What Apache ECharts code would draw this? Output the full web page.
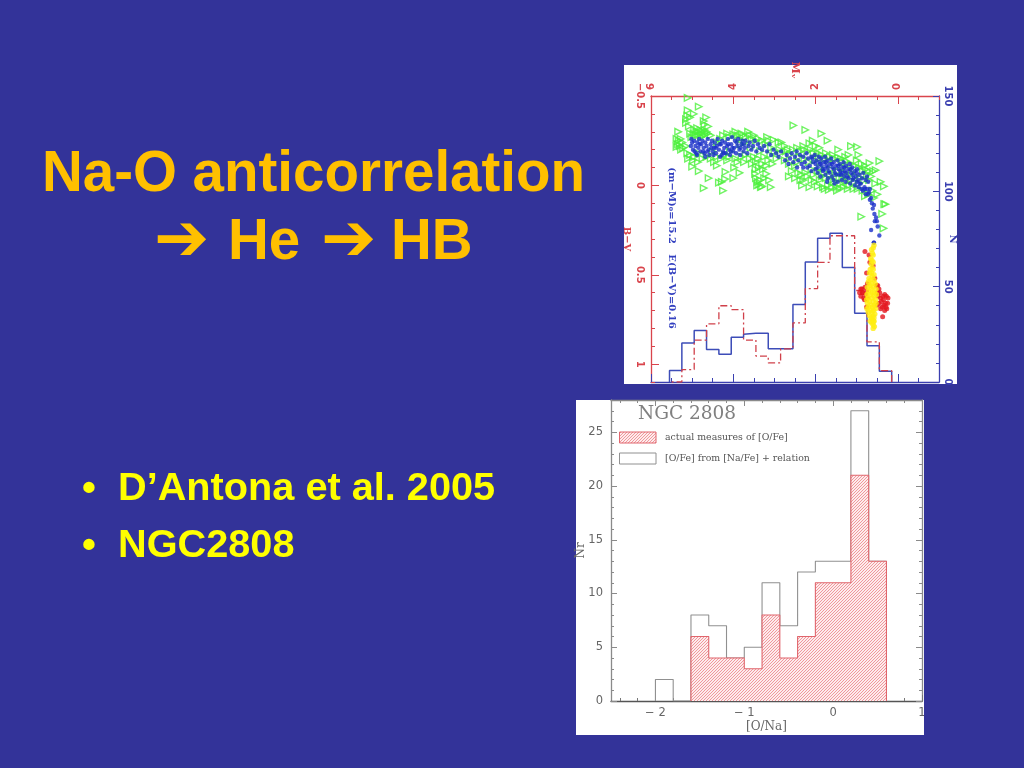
<!DOCTYPE html>
<html><head><meta charset="utf-8">
<style>html,body{margin:0;padding:0;background:#333399}#c{width:1024px;height:768px}</style>
<script src="https://cdn.jsdelivr.net/npm/echarts@6/dist/echarts.min.js"></script>
</head><body><div id="c"></div>
<script>
// Upper panel: histograms against absolute magnitude
const binEdgesMv = [0.15,0.45,0.75,1.05,1.35,1.65,1.95,2.25,2.55,2.85,3.15,3.45,3.75,4.05,4.35,4.65,4.95,5.25,5.55];
const countsBlue = [5.6,19,36,60,78,75.4,63,40.6,17.4,17.4,25.6,25,23.5,14.5,17,27,20.5,6];
const countsRed  = [6,21,48,76.7,76.7,62.7,49,31,17.4,10,13.6,22,38,40,30.5,22,6.5,0];
// Upper panel: stars as [Mv, B-V]
const starsGreen = [[5.11,-.49],[4.84,-.44],[5.11,-.42],[4.96,-.40],[5.12,-.39],[4.66,-.38],[4.72,-.36],[5.15,-.35],[4.61,-.33],[5.08,-.33],[4.80,-.31],[5.34,-.30],[5.15,-.37],[5.05,-.38],[4.7,-.34],
[4.95,-.31],[4.9,-.3],[4.85,-.3],[4.8,-.29],[4.75,-.3],[4.7,-.31],[4.65,-.3],[4.62,-.29],[4.92,-.28],[4.85,-.28],[4.78,-.27],[4.72,-.28],[4.68,-.285],[4.97,-.29],[4.88,-.32],[5.05,-.29],
[5.38,-.26],[5.33,-.25],[5.28,-.26],[5.24,-.24],[5.35,-.23],[5.3,-.22],[5.38,-.215],[5.22,-.21],[5.27,-.2],[5.15,-.22],
[5.12,-.18],[5.05,-.17],[5.1,-.15],[4.95,-.16],[4.85,-.18],[4.75,-.15],[4.65,-.16],[4.55,-.15],[4.4,-.16],[4.3,-.15],[4.2,-.17],[4.1,-.16],
[5.0,-.105],[4.84,-.08],[4.6,-.04],[4.72,.015],[4.25,.03],[4.35,-.015],[4.2,-.035],[4.0,-.04],[4.4,-.11],[4.19,-.075],[3.98,-.1],[3.85,-.07],[3.74,-.13],[4.28,-.02],[4.15,-.14],[3.9,-.13],[3.95,-.15],
[3.47,-.065],[3.45,-.04],[3.41,-.02],[3.33,.01],[3.37,-.005],[3.25,-.04],[3.13,-.03],[3.09,.01],[3.2,-.065],[3.46,-.09],[3.38,-.1],[3.28,-.09],[3.42,0],[3.3,.005],[3.35,-.03],
[4.4,-.24],[4.25,-.28],[4.1,-.27],[4.0,-.285],[3.9,-.28],[3.85,-.26],[3.8,-.29],[3.7,-.27],[3.64,-.3],[3.55,-.26],[3.45,-.25],[3.39,-.26],[3.3,-.25],[3.15,-.25],[3.02,-.255],[2.9,-.24],[2.83,-.24],[2.75,-.22],[4.15,-.29],[3.95,-.3],[3.72,-.24],[3.6,-.28],
[3.8,-.16],[3.7,-.17],[3.6,-.15],[3.5,-.16],[3.45,-.13],[3.4,-.15],[3.3,-.12],[3.25,-.16],[3.15,-.14],[3.05,-.12],[3.1,-.17],[2.95,-.15],[2.85,-.18],[2.75,-.14],[2.65,-.12],[3.55,-.12],[3.2,-.11],[3.0,-.19],
[2.54,-.335],[2.25,-.31],[1.86,-.29],[1.71,-.25],[2.07,-.25],[2.15,-.235],[1.91,-.21],[1.45,-.2],[1.14,-.22],[.99,-.215],[.96,-.17],[1.2,-.17],[.69,-.125],[.45,-.135],[.54,-.085],[.34,.005],[.33,.105],[.3,.105],[.38,.16],[.89,.175],[.35,.24],[2.0,-.22],[2.3,-.22],
[2.55,-.2],[2.45,-.21],[2.38,-.19],[2.28,-.2],[2.2,-.19],[2.12,-.2],[2.05,-.18],[1.95,-.18],[1.85,-.17],[1.75,-.18],[1.65,-.16],[1.55,-.15],[1.45,-.155],[1.35,-.13],[1.25,-.135],[1.15,-.12],[1.05,-.11],[.95,-.1],[.85,-.08],[.75,-.06],[.7,-.03],[.65,-.05],[1.0,-.14],[.8,-.11],
[2.5,-.11],[2.45,-.13],[2.37,-.03],[2.33,0],[2.35,-.06],[2.25,-.07],[2.2,-.05],[1.95,.005],[2.1,-.09],[2.05,-.06],[1.95,-.08],[1.85,-.05],[1.7,0],[1.75,-.04],[1.65,-.06],[1.6,-.03],[1.5,.01],[1.55,-.02],[1.4,-.01],[1.35,-.04],[1.25,-.02],[1.15,-.03],[1.05,-.02],[1.3,-.07],[1.45,-.08],[.95,-.01],
[2.72,-.19],[2.63,-.17],[2.41,-.16],[2.27,-.15],[2.17,-.13],[2.02,-.14],[1.88,-.1],[1.79,-.07],[1.62,-.09],[1.52,-.06],[1.42,-.04],[1.33,-.1],[1.22,-.05],[1.12,-.07],[1.02,-.05],[.92,-.04],[.82,-.03],[.88,-.12],[.78,-.09],[.72,-.08],[1.68,-.14],[1.58,-.17],[1.38,-.15],[1.28,-.16],[1.78,-.15],[1.92,-.15],
[4.98,-.14],[4.86,-.13],[4.5,-.19],[4.47,-.13],[4.08,-.19],[3.82,-.23],[3.58,-.21],[3.35,-.19],[3.22,-.23],[3.08,-.21],[2.88,-.2],[2.68,-.2],[5.02,-.27],[4.55,-.28],[4.32,-.26],[3.76,-.28],[3.5,-.28],[3.18,-.27],
[2.42,-.07],[2.3,-.03],[2.15,.01],[2.1,-.03],[2.02,-.02],[1.9,-.03],[1.82,.01],[1.78,.02],[1.68,.025],[1.6,.01],[1.48,.03],[1.42,.015],[1.32,.01],[1.22,.02],[1.18,0],[1.08,.02],[.98,.02],[.86,.03],[.8,.06],[.72,.05],[.62,.03],[.58,.07],[.5,.05],[.42,-.02],[.55,-.01],[.6,-.08],[2.58,-.08],[2.65,-.05],[2.5,-.04]];
const starsBlue = [[5.02,-.26],[5.0,-.24],[5.03,-.22],[4.98,-.2],[4.95,-.25],[4.92,-.22],[4.9,-.18],[4.87,-.24],[4.85,-.21],[4.83,-.26],[4.8,-.19],[4.78,-.23],[4.75,-.25],[4.72,-.21],[4.7,-.18],[4.68,-.24],[4.65,-.22],[4.62,-.26],[4.6,-.2],[4.58,-.17],[4.55,-.23],[4.52,-.25],[4.5,-.19],[4.47,-.21],[4.45,-.24],[4.42,-.18],[4.4,-.22],[4.38,-.26],[4.35,-.2],[4.32,-.16],[4.3,-.23],[4.27,-.25],[4.25,-.19],[4.22,-.21],[4.2,-.24],[4.18,-.18],[4.15,-.22],[4.13,-.26],[4.1,-.2],[4.08,-.17],[4.05,-.23],[4.03,-.27],[4.0,-.19],[3.98,-.21],[3.96,-.25],[3.93,-.18],[3.9,-.22],[3.88,-.26],[3.85,-.2],[3.83,-.17],[3.8,-.23],[3.78,-.25],[3.75,-.19],[3.72,-.21],[3.7,-.25],[3.66,-.18],[3.63,-.22],[3.6,-.24],[3.56,-.2],[3.52,-.22],[3.48,-.25],[3.44,-.19],[3.4,-.23],[3.36,-.21],[3.3,-.2],[3.25,-.22],[3.18,-.19],[3.12,-.23],[3.08,-.17],[3.02,-.2],[2.96,-.18],[2.9,-.16],[2.84,-.19],
[4.94,-.19],[4.82,-.23],[4.73,-.19],[4.63,-.19],[4.53,-.21],[4.43,-.21],[4.33,-.23],[4.23,-.18],[4.12,-.23],[4.02,-.21],[3.92,-.24],[3.82,-.21],[3.74,-.23],[4.88,-.17],[4.68,-.16],[4.48,-.17],[4.28,-.17],[4.06,-.19],
[2.74,-.14],[2.7,-.17],[2.66,-.12],[2.62,-.15],[2.58,-.18],[2.54,-.13],[2.5,-.16],[2.46,-.19],[2.42,-.14],[2.38,-.17],[2.34,-.12],[2.3,-.16],[2.26,-.13],[2.22,-.18],[2.18,-.15],[2.14,-.11],[2.1,-.16],[2.06,-.13],[2.02,-.17],[1.98,-.14],[1.95,-.1],[1.92,-.16],[1.89,-.12],[1.86,-.15],[1.83,-.09],[1.8,-.13],[1.77,-.16],[1.74,-.11],[1.71,-.14],[1.68,-.08],[1.65,-.12],[1.62,-.15],[1.59,-.1],[1.56,-.13],[1.53,-.07],[1.5,-.11],[1.47,-.14],[1.44,-.09],[1.41,-.12],[1.38,-.06],[1.35,-.1],[1.32,-.13],[1.29,-.08],[1.26,-.11],[1.23,-.05],[1.2,-.09],[1.17,-.12],[1.14,-.07],[1.11,-.1],[1.08,-.04],[1.05,-.08],[1.02,-.05],[.99,-.09],[.96,-.03],[.93,-.06],[.9,-.01],[.87,-.04],[.84,-.07],[.81,.01],[.78,-.03],[.75,-.05],[.72,-.02],[.68,.02],
[1.9,-.13],[1.85,-.11],[1.75,-.13],[1.7,-.1],[1.6,-.12],[1.55,-.09],[1.45,-.11],[1.4,-.08],[1.3,-.1],[1.25,-.07],[1.15,-.09],[1.1,-.06],[1.0,-.07],[2.0,-.12],[2.08,-.15],[1.78,-.09],
[1.95,-.07],[1.88,-.05],[1.82,-.08],[1.76,-.06],[1.7,-.04],[1.66,-.07],[1.6,-.05],[1.56,-.03],[1.5,-.06],[1.46,-.02],[1.42,-.06],[1.36,-.03],[1.3,-.05],[1.27,-.02],[1.2,-.04],[1.16,-.01],[1.1,-.03],[1.04,0],[1.0,-.02],[.95,.01],[.88,.02],[.75,.02],[2.2,-.1],[2.1,-.08],[2.0,-.09],[2.3,-.1],[2.45,-.1],[1.72,-.02],[1.54,-.01],[1.34,-.07],
[.93,-.01],[.85,.03],[.8,.02],[.78,.05],[.73,.05],[.7,.04],[.68,.08],[.65,.07],[.63,.1],[.61,.13],[.58,.11],[.57,.16],[.53,.18],[.56,.2],[.51,.2],[.49,.23],[.65,.25],[.45,.28],[.58,.32],[.585,.32]];
const starsRed = [[.8,.37],[.68,.43],[.76,.49],[.56,.52],[.7,.39],[.6,.45],[.74,.55],[.52,.56],
[.93,.6],[.9,.62],[.87,.58],[.85,.6],[.83,.63],[.8,.57],[.78,.61],[.76,.59],[.9,.58],[.81,.64],[.76,.68],[.86,.6],[.74,.63],
[.49,.56],[.46,.58],[.44,.6],[.48,.62],[.42,.63],[.4,.65],[.36,.62],[.32,.61],[.28,.62],[.25,.66],[.3,.66],[.34,.67],[.38,.68],[.27,.69],[.32,.7],[.42,.69],[.46,.66],[.24,.63],[.37,.735],[.5,.6],[.5,.67],[.35,.64],[.29,.68]];
const starsYellow = [[.58,.335],[.6,.35],[.64,.36],[.62,.38],[.6,.39],[.66,.41],[.63,.42],[.6,.43],[.65,.44],[.62,.46],[.67,.47],[.6,.47],[.64,.49],[.69,.49],[.58,.5],[.62,.51],[.7,.52],[.66,.53],[.58,.53],[.72,.54],[.63,.55],[.55,.55],[.68,.56],[.6,.57],[.74,.57],[.53,.58],[.65,.58],[.71,.59],[.57,.6],[.62,.6],[.52,.61],[.75,.61],[.67,.61],[.58,.62],[.72,.63],[.63,.63],[.54,.64],[.76,.64],[.69,.65],[.6,.65],[.53,.66],[.74,.66],[.65,.67],[.57,.67],[.71,.68],[.61,.68],[.54,.69],[.75,.69],[.67,.7],[.59,.7],[.72,.71],[.63,.71],[.56,.72],[.69,.73],[.6,.73],[.65,.74],[.58,.74],[.62,.75],[.67,.76],[.58,.76],[.63,.77],[.6,.78],[.57,.79],[.59,.76],[.6,.8]];
const mvMajor = [0,2,4,6];
const bvMajor = [-0.5,0,0.5,1];
const nMajor = [0,50,100,150];
const bvNote = "(m\u2212M)\u2080=15.2   E(B\u2212V)=0.16";
// Lower panel: histograms in [O/Na]
const binEdgesONaOpen = [-2,-1.8,-1.6,-1.4,-1.2,-1,-0.8,-0.6,-0.4,-0.2,0,0.2,0.4,0.6];
const countsOpen = [2,0,8,7,4,5,11,7,12,13,13,27,13];
const binEdgesONaHatched = [-1.6,-1.4,-1.2,-1,-0.8,-0.6,-0.4,-0.2,0,0.2,0.4,0.6];
const countsHatched = [6,4,4,3,8,4,6,11,11,21,13];
const onaMajor = [-2,-1,0,1];
const onaMinor = [-2.4,-2.2,-1.8,-1.6,-1.4,-1.2,-0.8,-0.6,-0.4,-0.2,0.2,0.4,0.6,0.8];
const nrMajor = [0,5,10,15,20,25];
const nrMinor = [1,2,3,4,6,7,8,9,11,12,13,14,16,17,18,19,21,22,23,24,26,27];
const legendLabels = ["actual measures of [O/Fe]","[O/Fe] from [Na/Fe] + relation"];

const steps = (edges, vals) => [[edges[0],0], ...vals.map((v,i)=>[edges[i],v]), [edges[edges.length-1],0]];

function makeHatch(){
  const c = document.createElement('canvas');
  c.width = 3; c.height = 3;
  const g = c.getContext('2d');
  g.fillStyle = '#fdeced'; g.fillRect(0,0,3,3);
  g.fillStyle = '#f0989c';
  for (let i=0;i<3;i++) g.fillRect(i,2-i,1,1);
  return {image:c, repeat:'repeat'};
}

const RED='#d9444c', BLUE='#3a3fb0', GREY='#8a8a8a', TXT='#666';
const rectTop = {left:651, top:96, width:288, height:286};
const rectBot = {left:611, top:400, width:311, height:301};
const off = {show:false};
function ax(o){return Object.assign({type:'value',nameMoveOverlap:false,splitLine:off,axisLabel:off,axisTick:off,axisLine:{show:false,onZero:false}},o);}
const line = c => ({show:true,onZero:false,lineStyle:{color:c,width:1.3}});
const tick = (c,len,vals) => Object.assign({show:true,inside:true,length:len,lineStyle:{color:c,width:1}}, vals?{customValues:vals}:{});
const topLab = (c,vals,extra) => Object.assign({show:true,customValues:vals,rotate:-90,color:c,fontSize:10,fontFamily:'DejaVu Sans',fontWeight:'bold'},extra);

const xMv = {min:-1,max:6,inverse:true};
const yBv = {min:-0.5,max:1.1,inverse:true};
const yN = {min:0,max:150};
const xOna = {min:-2.5,max:1};
const yNr = {min:0,max:28};

const xAxis = [
  ax({...xMv,gridIndex:0,position:'top',interval:0.5,axisLine:line(RED),axisTick:tick(RED,4)}),
  ax({...xMv,gridIndex:0,position:'bottom',interval:0.5,axisLine:line(BLUE),axisTick:tick(BLUE,4)}),
  ax({...xMv,gridIndex:1,position:'top',axisTick:tick(RED,8,mvMajor),
     axisLabel:topLab(RED,mvMajor,{margin:6,formatter:v=>String(v)}),
     name:'M\u1D65',nameLocation:'middle',nameGap:17,nameRotate:-90,
     nameTextStyle:{color:RED,fontSize:11,fontFamily:'DejaVu Serif',fontWeight:'bold'}}),
  ax({...xMv,gridIndex:1,position:'bottom',axisTick:tick(BLUE,8,mvMajor)}),
  ax({...xOna,gridIndex:2,position:'top',axisLine:line(GREY),axisTick:tick(GREY,3,onaMinor)}),
  ax({...xOna,gridIndex:2,position:'bottom',axisLine:{show:true,onZero:false,lineStyle:{color:'#555',width:1.3}},axisTick:tick('#777',3,onaMinor)}),
  ax({...xOna,gridIndex:3,position:'top',axisTick:tick(GREY,6,onaMajor)}),
  ax({...xOna,gridIndex:3,position:'bottom',axisTick:tick('#777',6,onaMajor),
     axisLabel:{show:true,customValues:onaMajor,color:TXT,fontSize:11.5,fontFamily:'DejaVu Sans',margin:6,formatter:v=>String(v).replace('-','\u2212 ')},
     name:'[O/Na]',nameLocation:'middle',nameGap:20,nameTextStyle:{color:TXT,fontSize:12,fontFamily:'DejaVu Serif'}})
];
const yAxis = [
  ax({...yBv,gridIndex:0,position:'left',interval:0.1,axisLine:line(RED),axisTick:tick(RED,4)}),
  ax({...yN,gridIndex:0,position:'right',interval:10,axisLine:line(BLUE),axisTick:tick(BLUE,3)}),
  ax({...yBv,gridIndex:1,position:'left',axisTick:tick(RED,8,bvMajor),
     axisLabel:topLab(RED,bvMajor,{margin:6,formatter:v=>String(v).replace('-','\u2212')}),
     name:'B\u2212V',nameLocation:'middle',nameGap:19,nameRotate:-90,
     nameTextStyle:{color:RED,fontSize:10,fontFamily:'DejaVu Serif',fontWeight:'bold'}}),
  ax({...yN,gridIndex:1,position:'right',axisTick:tick(BLUE,6,nMajor),
     axisLabel:topLab(BLUE,nMajor,{margin:4}),
     name:'N',nameLocation:'middle',nameGap:9,nameRotate:-90,
     nameTextStyle:{color:BLUE,fontSize:10,fontFamily:'DejaVu Serif',fontWeight:'bold'}}),
  ax({...yNr,gridIndex:2,position:'left',axisLine:line(GREY),axisTick:tick(GREY,3,nrMinor)}),
  ax({...yNr,gridIndex:2,position:'right',axisLine:line(GREY),axisTick:tick(GREY,3,nrMinor)}),
  ax({...yNr,gridIndex:3,position:'left',axisTick:tick(GREY,6,nrMajor),
     axisLabel:{show:true,customValues:nrMajor,color:TXT,fontSize:11.5,fontFamily:'DejaVu Sans',margin:8},
     name:'Nr',nameLocation:'middle',nameGap:24,nameRotate:90,nameTextStyle:{color:TXT,fontSize:12,fontFamily:'DejaVu Serif'}}),
  ax({...yNr,gridIndex:3,position:'right',axisTick:tick(GREY,6,nrMajor)})
];

const scatter = (data,sym,size,rot,style,z)=>({type:'scatter',xAxisIndex:2,yAxisIndex:2,data,symbol:sym,symbolSize:size,symbolRotate:rot,itemStyle:style,silent:true,z,animation:false});
const hist = (edges,vals,style)=>({type:'line',step:'end',xAxisIndex:2,yAxisIndex:3,showSymbol:false,symbol:'none',data:steps(edges,vals),lineStyle:style,z:3,animation:false});
const series = [
  hist(binEdgesMv,countsBlue,{color:'#3d4db8',width:1.5}),
  hist(binEdgesMv,countsRed,{color:'#d0404a',width:1.3,type:[7,3,2,3]}),
  scatter(starsGreen,'triangle',6.5,-90,{color:'rgba(255,255,255,0)',borderColor:'#4cf03c',borderWidth:1.4},4),
  scatter(starsBlue,'circle',4.4,0,{color:'#1a2fc8'},5),
  scatter(starsRed,'circle',5,0,{color:'#e4161e'},6),
  scatter(starsYellow,'circle',5.4,0,{color:'#ffee10'},7),
  {type:'line',step:'end',xAxisIndex:7,yAxisIndex:6,symbol:'none',data:steps(binEdgesONaOpen,countsOpen),lineStyle:{color:'#909090',width:1.1},z:3,animation:false},
  {type:'line',step:'end',xAxisIndex:7,yAxisIndex:6,symbol:'none',data:steps(binEdgesONaHatched,countsHatched),lineStyle:{color:'#e0656c',width:1.1},areaStyle:{color:makeHatch(),opacity:1},z:4,animation:false}
];

const T = (x,y,text,font,fill,align,extra)=>Object.assign({type:'text',x,y,z:100,style:{text,font,fill,align:align||'left',verticalAlign:'middle'}},extra||{});
const titleFont='bold 56.5px "Liberation Sans"', bulletFont='bold 39.7px "Liberation Sans"', arrowFont='bold 66px "DejaVu Sans"';
const GOLD='#ffc000', YEL='#ffff00';
const graphic = [
  {type:'rect',z:-5,shape:{x:624,y:65,width:333,height:319},style:{fill:'#fff'}},
  {type:'rect',z:-5,shape:{x:576,y:400,width:348,height:335},style:{fill:'#fff'}},
  {type:'rect',z:90,shape:{x:924,y:702,width:12,height:26},style:{fill:'#333399'}},
  T(313.5,175,'Na-O anticorrelation',titleFont,GOLD,'center'),
  T(154,243,'\u2794',arrowFont,GOLD),
  T(228,243.5,'He',titleFont,GOLD),
  T(321,243,'\u2794',arrowFont,GOLD),
  T(391,243.5,'HB',titleFont,GOLD),
  T(82,489.5,'\u2022',bulletFont,YEL),
  T(118,489.5,'D\u2019Antona et al. 2005',bulletFont,YEL),
  T(82,546.5,'\u2022',bulletFont,YEL),
  T(118,546.5,'NGC2808',bulletFont,YEL),
  T(638,414,'NGC 2808','18.5px "DejaVu Serif"','#808080'),
  {type:'rect',z:50,shape:{x:619.5,y:432,width:36.5,height:11},style:{fill:makeHatch(),stroke:'#e0656c',lineWidth:1}},
  {type:'rect',z:50,shape:{x:619.5,y:453,width:36.5,height:11},style:{fill:'#fff',stroke:'#909090',lineWidth:1}},
  T(665,438,legendLabels[0],'9.4px "DejaVu Serif"','#555'),
  T(665,459,legendLabels[1],'9.4px "DejaVu Serif"','#555'),
  T(672,248,bvNote,'bold 10px "DejaVu Serif"','#3340c0','center',{rotation:-Math.PI/2})
];

const chart = echarts.init(document.getElementById('c'),null,{renderer:'canvas'});
chart.setOption({
  backgroundColor:'#333399',animation:false,
  grid:[rectTop,rectTop,rectBot,rectBot].map(r=>Object.assign({containLabel:false},r)),
  xAxis,yAxis,series,graphic
});
</script></body></html>
